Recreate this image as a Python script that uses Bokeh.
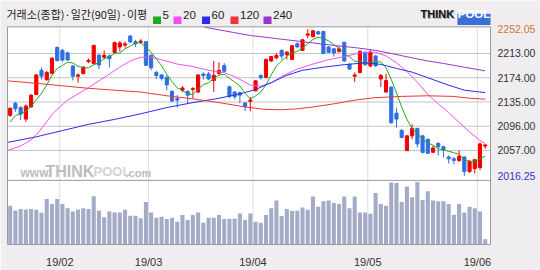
from bokeh.plotting import figure
from bokeh.models import ColumnDataSource, Range1d, FixedTicker, Label
from bokeh.core.properties import value
from bokeh.embed import file_html
from bokeh.resources import INLINE

# ---------------- data (KOSPI daily) ----------------
open_ = [2113.5, 2133, 2126, 2107.5, 2127, 2147, 2186, 2171, 2181, 2222.5,
         2218, 2214, 2193, 2176.5, 2180.5, 2200, 2197, 2210.5, 2207, 2209,
         2214.5, 2223.5, 2226.5, 2241, 2232, 2231, 2232, 2210, 2182.5, 2178.5,
         2174.5, 2152, 2140.5, 2154, 2152, 2155, 2151, 2180, 2180, 2169.5,
         2181, 2193.5, 2159.5, 2151, 2150, 2133.5, 2136, 2153, 2177.5, 2174.5,
         2201, 2206, 2218, 2211.5, 2203.5, 2228.5, 2218, 2242.5, 2240, 2248,
         2248.5, 2223.5, 2220.5, 2216.5, 2231, 2195.5, 2176.5, 2182.5, 2214.5, 2193,
         2209, 2172, 2151, 2159, 2117, 2089.5, 2057, 2080.5, 2092.5, 2080.5,
         2075, 2054, 2068.5, 2063, 2046.5, 2043.5, 2041, 2046.5, 2023, 2028,
         2029.5, 2064]
high = [2126, 2135.5, 2128, 2131, 2147.5, 2180, 2190.5, 2185, 2207, 2224.5,
        2220.5, 2216, 2194, 2181, 2193, 2205, 2227, 2211.5, 2217.5, 2211.5,
        2232, 2233, 2232.5, 2242.5, 2235, 2236, 2233, 2211.5, 2185, 2180,
        2177.5, 2154, 2146, 2160.5, 2154, 2159, 2179.5, 2182.5, 2183.5, 2201,
        2199, 2197.5, 2161.5, 2152, 2152, 2134.5, 2143, 2170.5, 2180, 2204.5,
        2209, 2214, 2219.5, 2217, 2226.5, 2231, 2236, 2252.05, 2250.5, 2249.5,
        2249.5, 2224.5, 2222, 2224.5, 2232, 2197.5, 2182.5, 2218, 2217, 2219,
        2210, 2180, 2180, 2160, 2125, 2091, 2081.5, 2099, 2093.5, 2082,
        2076, 2064.5, 2070, 2064.5, 2049, 2046.5, 2057, 2047.5, 2041, 2043.5,
        2070, 2067.5]
low = [2111, 2119, 2106, 2103, 2126, 2146, 2171, 2169, 2180, 2200.5,
       2199.5, 2201.5, 2169.5, 2166, 2179.5, 2197.5, 2195.5, 2188, 2203.5, 2190.5,
       2214, 2216, 2222.5, 2230, 2223.5, 2228.5, 2193, 2186, 2172, 2169.5,
       2154, 2134.5, 2126, 2151, 2133, 2140.5, 2150, 2171, 2170, 2151,
       2179, 2182.5, 2141.5, 2139.5, 2133, 2120.5, 2120, 2152, 2171, 2173.5,
       2199.5, 2203.5, 2203.5, 2203.5, 2202.5, 2222.5, 2217, 2237.5, 2239, 2243,
       2212, 2214, 2208, 2214, 2200, 2186.5, 2167, 2181, 2193, 2190.5,
       2192, 2159, 2150, 2100.5, 2093.5, 2076.5, 2055.5, 2075, 2062, 2052.5,
       2051.5, 2053, 2049, 2045.5, 2036, 2035, 2038.5, 2016.25, 2021, 2020,
       2025.5, 2059.5]
close = [2125, 2124, 2115.5, 2128.5, 2146, 2178.5, 2176.5, 2182.5, 2205.5, 2201.5,
         2202.5, 2202.5, 2176.5, 2178.5, 2191, 2202, 2226, 2194.5, 2210, 2204.5,
         2230.5, 2230, 2228.5, 2231.5, 2228.5, 2233, 2194, 2190, 2177.5, 2173,
         2162.5, 2136.5, 2138, 2157.5, 2146, 2156.5, 2178.5, 2177.5, 2172, 2178,
         2186, 2184.5, 2144, 2143.5, 2146, 2127.5, 2138, 2169, 2174, 2203.5,
         2208, 2210, 2209, 2215, 2225.5, 2223.5, 2235, 2244.5, 2249.5, 2244.5,
         2213, 2215, 2214, 2220.5, 2201, 2188, 2178.5, 2216.5, 2195, 2215,
         2193, 2177.5, 2169.5, 2101.5, 2107.5, 2078, 2080.5, 2092.5, 2067.5, 2054,
         2052.5, 2061, 2063, 2058, 2043.5, 2041, 2047.5, 2023, 2040, 2042,
         2067.5, 2066]
volume = [39.8, 34.8, 36.5, 35.8, 36.5, 35.5, 32.5, 46.5, 41.5, 46.5,
          41.5, 37.2, 33.8, 35.8, 37.2, 36.5, 49.5, 34.5, 27.8, 33.8,
          32.8, 32.8, 35.5, 29.5, 29.5, 26.8, 43.5, 32.8, 27.5, 28.5,
          26.2, 27.5, 23.2, 30.2, 25.2, 30.2, 32.8, 22.2, 27.5, 27.5,
          30.2, 26.2, 26.5, 26.5, 31.8, 25.2, 31.8, 23.2, 22.2, 30.2,
          37.2, 45.2, 29.2, 36.5, 34.5, 34.5, 37.8, 35.5, 49.2, 38.8,
          44.2, 45.2, 42.5, 41.5, 49.2, 37.2, 49.2, 32.8, 32.8, 31.5,
          52.8, 41.5, 39.8, 63.5, 63.0, 43.5, 59.5, 48.5, 64.0, 45.5,
          54.5, 45.2, 44.2, 44.2, 41.5, 30.5, 41.5, 32.8, 38.8, 37.2,
          33.8, 5.5]

ma5 = [2103, 2113, 2116, 2120, 2127.8, 2138.5, 2149, 2162.4, 2177.8, 2188.9,
       2193.7, 2199, 2197.7, 2192.2, 2190.1, 2190, 2194.7, 2198.4, 2204.7, 2207.4,
       2213.1, 2213.8, 2220.6, 2224.9, 2229.8, 2230.3, 2223.1, 2215.2, 2204.4, 2193.3,
       2179.4, 2167.7, 2157.6, 2153.6, 2148.1, 2146.9, 2155.3, 2163.1, 2166, 2172.4,
       2178.3, 2179.6, 2172.9, 2167.1, 2160.7, 2149.1, 2139.6, 2144.8, 2150.9, 2162.5,
       2178.5, 2193, 2200.9, 2209, 2213.4, 2216.6, 2221.6, 2228.7, 2235.6, 2239.4,
       2237.3, 2233.3, 2227.2, 2221.4, 2212.7, 2207.6, 2200.3, 2200.8, 2195.8, 2198.6,
       2199.6, 2199.4, 2190, 2171.3, 2149.8, 2126.7, 2107.3, 2091.9, 2085.1, 2074.4,
       2069.4, 2065.5, 2059.7, 2057.8, 2055.7, 2053.4, 2050.6, 2042.6, 2039, 2038.7,
       2044, 2047.7]

ma20_day = [-0.5, 2, 4, 5.5, 7, 8, 9.5, 11, 13, 15, 17, 19, 21, 23, 25, 27, 29, 32, 35, 38,
            41, 43, 46, 48, 50, 52, 55, 58, 61, 64, 67, 69, 70, 72, 74, 76, 78, 80, 82, 84,
            86, 88, 90, 91]
ma20 = [2057, 2064, 2074, 2087, 2103, 2115, 2127, 2138, 2148, 2158, 2169, 2180, 2191, 2201,
        2207, 2207, 2203, 2196, 2192, 2186, 2182, 2176, 2162, 2160.5, 2166, 2176, 2188, 2196,
        2203, 2208, 2214, 2215.5, 2215, 2209, 2198, 2184, 2167, 2147, 2132, 2118, 2102, 2087,
        2073, 2068]

ma60_day = [-0.5, 5, 10, 15, 20, 25, 30, 35, 40, 44, 47, 50, 53, 56, 60, 64, 68, 71, 74, 77,
            80, 84, 87, 91]
ma60 = [2070, 2079, 2089, 2099, 2107, 2116, 2126, 2134, 2141, 2148, 2155, 2166, 2178, 2186,
        2191, 2195, 2198, 2195.5, 2189, 2183, 2174, 2162, 2154, 2150]

ma120_day = [-0.5, 5, 10, 15, 20, 25, 30, 35, 40, 45, 49, 52, 55, 58, 62, 66, 70, 75, 80, 85,
             88, 91]
ma120 = [2169, 2165, 2161, 2157, 2154, 2151, 2145, 2140, 2134, 2127, 2123, 2122.5, 2124, 2127,
         2132, 2138, 2142, 2144, 2145, 2144, 2141, 2139.5]

ma240_day = [37.2, 40, 43, 46, 50, 54, 58, 62, 66, 70, 73, 77, 80, 83, 87, 91]
ma240 = [2255.5, 2251, 2246.5, 2242, 2238, 2234, 2230, 2226, 2222.5, 2218, 2213, 2206, 2201,
         2197, 2191, 2185]

month_labels = ["19/02", "19/03", "19/04", "19/05", "19/06"]
month_first_day = [10, 27, 47, 69, 90]
price_ticks = [2057.0, 2096.0, 2135.0, 2174.0, 2213.0]
price_max = 2252.05
price_min = 2016.25
title_text = "거래소(종합)·일간(90일)·이평"
ma_names = ["5", "20", "60", "120", "240"]
ma_colors = ["#1faa1f", "#f050f0", "#2b2bf0", "#f03535", "#9a35cc"]

# ---------------- page geometry ----------------
W, H = 540, 270
AXIS_H = 20                     # room for the date labels below the frame
FRAME_H = H - AXIS_H            # frame covers the rest of the canvas
DAY0_PX, PX_PER_DAY = 9.7, 5.22
REF_PRICE, REF_PX, PRICE_PER_PX = 2213.0, 54.3, 1.57
BG = "#efedef"
UP, DOWN = "#f00000", "#2f6fe2"


def px2x(px):
    return (px - DAY0_PX) / PX_PER_DAY


def py2y(py):
    return REF_PRICE - (py - REF_PX) * PRICE_PER_PX


X0, X1 = px2x(7), px2x(490)           # plot area (white box)
Y_TOP, Y_BOT = py2y(27), py2y(FRAME_H)
Y_SEP = py2y(184.3)                   # price / volume separator

N = len(close)
days = list(range(N))
colors = [UP if c >= o else DOWN for o, c in zip(open_, close)]
src = ColumnDataSource(dict(
    x=days, o=open_, h=high, l=low, c=close, v=volume, col=colors,
    top=[max(o, c) for o, c in zip(open_, close)],
    bot=[min(o, c) for o, c in zip(open_, close)],
))

p = figure(width=W, height=H, x_range=Range1d(px2x(0), px2x(W)),
           y_range=Range1d(Y_BOT, py2y(0)), output_backend="svg",
           toolbar_location=None, y_axis_location=None,
           min_border_left=0, min_border_right=0, min_border_top=0,
           min_border_bottom=AXIS_H,
           background_fill_color=BG, border_fill_color=BG, outline_line_color=None)
p.extra_y_ranges = {"vol": Range1d(0, FRAME_H)}
p.xgrid.visible = False
p.ygrid.visible = False

# white plot area
p.quad(left=[X0], right=[X1], bottom=[Y_BOT], top=[Y_TOP], fill_color="white",
       line_color=None, level="image")

# grid lines
grid_x = [d - 0.5 for d in month_first_day]
p.segment(x0=[X0] * len(price_ticks), x1=[X1] * len(price_ticks), y0=price_ticks,
          y1=price_ticks, line_color="#c4c4c4", line_width=1, level="underlay")
p.segment(x0=grid_x, x1=grid_x, y0=[Y_BOT] * len(grid_x), y1=[Y_TOP] * len(grid_x),
          line_color="#bdbdbd", line_width=1, line_dash="1 1", level="underlay")

# date axis
p.xaxis.ticker = FixedTicker(ticks=grid_x)
p.xaxis.major_label_overrides = {g: lab for g, lab in zip(grid_x, month_labels)}
p.xaxis.axis_line_color = None
p.xaxis.major_tick_line_color = None
p.xaxis.minor_tick_line_color = None
p.xaxis.major_label_standoff = 5
p.xaxis.major_label_text_font = "Liberation Sans"
p.xaxis.major_label_text_font_size = "11px"
p.xaxis.major_label_text_color = "#333333"

# price labels (right column)
lab_vals = [price_max] + price_ticks + [price_min]
lab_cols = ["#d0782c"] + ["#333333"] * len(price_ticks) + ["#3535c8"]
p.text(x=[px2x(497)] * len(lab_vals), y=lab_vals, text=[f"{v:.2f}" for v in lab_vals],
       text_color=lab_cols, text_font=value("Liberation Sans"),
       text_font_size="10.5px", text_baseline="middle", text_align="left")

# volume
p.vbar(x="x", top="v", bottom=0, width=0.78, source=src, y_range_name="vol",
       fill_color="#a3abc6", line_color=None)

# panel separator
p.segment(x0=[X0], x1=[X1], y0=[Y_SEP], y1=[Y_SEP], line_color="#9a9a9a", line_width=1)

# candles
p.segment(x0="x", y0="l", x1="x", y1="h", source=src, line_color="col", line_width=1)
p.vbar(x="x", top="top", bottom="bot", width=0.6, source=src,
       fill_color="col", line_color="col", line_width=1)

# moving averages
p.line(days, ma5, line_color=ma_colors[0], line_width=1)
p.line(ma20_day, ma20, line_color=ma_colors[1], line_width=1)
p.line(ma60_day, ma60, line_color=ma_colors[2], line_width=1)
p.line(ma120_day, ma120, line_color=ma_colors[3], line_width=1)
p.line(ma240_day, ma240, line_color=ma_colors[4], line_width=1)

# plot-area border
p.quad(left=[X0], right=[X1], bottom=[Y_BOT], top=[Y_TOP], fill_color=None,
       line_color="#9a9a9a", line_width=1, level="overlay")


def lab(text, px, py, color="#222222", size="11px", font="Liberation Sans",
        style="normal", align="left"):
    # page pixel position -> screen units of the frame (y measured from its bottom)
    p.add_layout(Label(x=px, y=FRAME_H - py, x_units="screen", y_units="screen",
                       text=text, text_color=color, text_font=font,
                       text_font_size=size, text_font_style=style,
                       text_align=align, text_baseline="middle"))


# title + legend
lab(title_text, 6, 19.5, font="Noto Sans CJK KR", size="11px")
leg_left = [152.5, 173, 201.5, 230, 263]
p.quad(left=[px2x(v) for v in leg_left], right=[px2x(v + 8) for v in leg_left],
       top=[py2y(16.5)] * 5, bottom=[py2y(24)] * 5, fill_color=ma_colors,
       line_color=None)
for name, xs in zip(ma_names, leg_left):
    lab(name, xs + 9.5, 20, size="11.5px")

# THINKPOOL logo
lab("THINK", 421, 20.5, color="#a8a8a8", size="11px", style="bold")
lab("THINK", 420, 19.5, color="#111111", size="11px", style="bold")
p.quad(left=[px2x(457)], right=[px2x(490)], top=[py2y(13.5)], bottom=[py2y(25)],
       fill_color="#3a6fd8", line_color=None)
lab("POOL", 473.5, 19.5, color="white", size="11.5px", style="bold", align="center")

# watermark
lab("www.", 20, 178, "#bcbcbc", "12px", style="bold")
lab("THINK", 45, 177, "#bcbcbc", "16px", style="bold")
lab("POOL", 93, 177, "#d4d4d4", "13px", style="bold")
lab(".com", 125, 178, "#bcbcbc", "11px", style="bold")

open("out.html", "w").write(file_html(p, INLINE))
